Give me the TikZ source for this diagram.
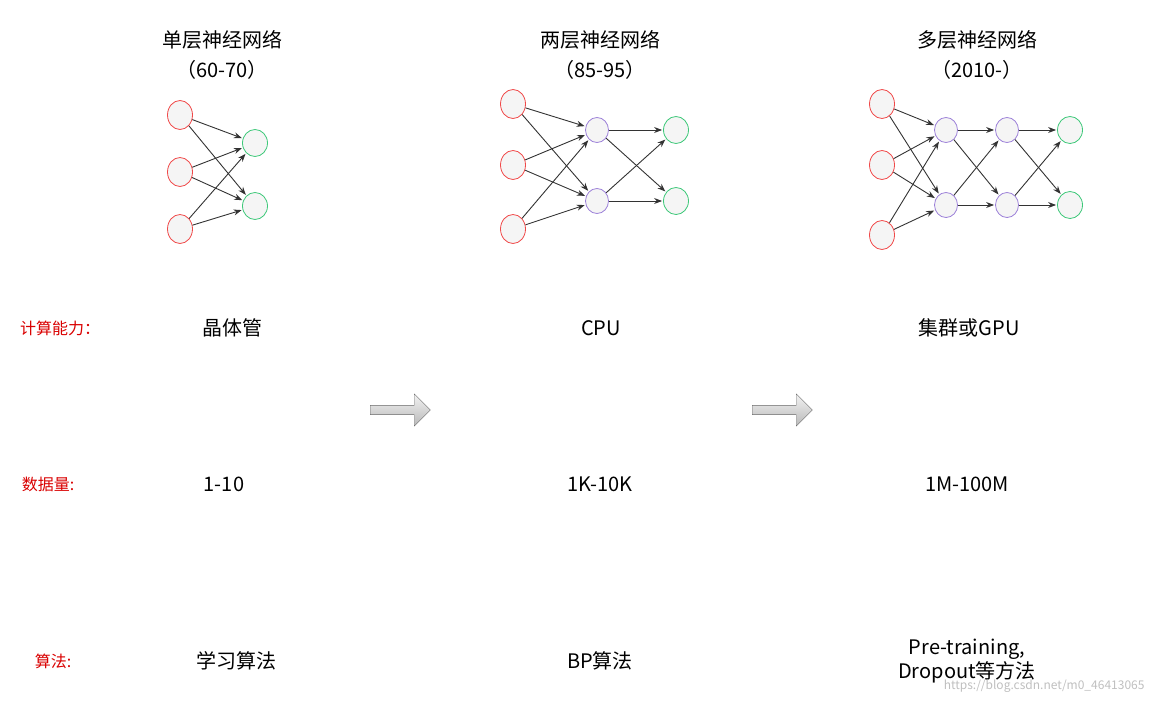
\documentclass[tikz,border=0pt]{standalone}
\usepackage{fontspec}
\setmainfont{Noto Sans CJK SC}
\usetikzlibrary{shapes.arrows,shapes.geometric,arrows.meta}
\definecolor{nred}{HTML}{F04848}
\definecolor{ngreen}{HTML}{3CC878}
\definecolor{npur}{HTML}{9B7FD8}
\begin{document}
\begin{tikzpicture}[x=1pt,y=-1pt,
 neu/.style={ellipse,draw,fill=gray!8,minimum width=25pt,minimum height=29pt,inner sep=0pt,line width=0.8pt},
 inn/.style={neu,draw=nred},
 outn/.style={neu,draw=ngreen,minimum width=25pt,minimum height=27pt},
 hid/.style={neu,draw=npur,minimum width=23pt,minimum height=25pt},
 con/.style={-{Stealth[length=8pt,width=6pt]},draw=black!80,line width=0.9pt,shorten >=1pt},
 ttl/.style={font=\fontsize{20}{24}\selectfont},
 val/.style={font=\fontsize{20}{24}\selectfont},
 lab/.style={font=\fontsize{16}{18}\selectfont,text=red!85!black},
 barr/.style={single arrow,draw=black!60,top color=gray!10,bottom color=gray!55,minimum height=60pt,minimum width=32pt,single arrow head extend=8pt,single arrow head indent=0pt,inner sep=3pt}
]
\useasboundingbox (0,0) rectangle (1156,704);
% titles
\node[ttl] (t1) at (222,40) {单层神经网络};
\node[ttl] (t1b) at (222,70) {（60-70）};
\node[ttl] (t2) at (600,40) {两层神经网络};
\node[ttl] (t2b) at (600,70) {（85-95）};
\node[ttl] (t3) at (977,40) {多层神经网络};
\node[ttl] (t3b) at (977,70) {（2010-）};
% net 1
\node[inn] (a1) at (180,115) {};
\node[inn] (a2) at (180,172) {};
\node[inn] (a3) at (180,229) {};
\node[outn] (b1) at (255,143) {};
\node[outn] (b2) at (255,206) {};
\foreach \i in {a1,a2,a3}\foreach \j in {b1,b2} \draw[con] (\i) -- (\j);
% net 2
\node[inn] (c1) at (513,104) {};
\node[inn] (c2) at (513,165) {};
\node[inn] (c3) at (513,229) {};
\node[hid] (d1) at (597,130) {};
\node[hid] (d2) at (597,201) {};
\node[outn] (e1) at (676,130) {};
\node[outn] (e2) at (676,201) {};
\foreach \i in {c1,c2,c3}\foreach \j in {d1,d2} \draw[con] (\i) -- (\j);
\foreach \i in {d1,d2}\foreach \j in {e1,e2} \draw[con] (\i) -- (\j);
% net 3
\node[inn] (f1) at (882,104) {};
\node[inn] (f2) at (882,165) {};
\node[inn] (f3) at (882,235) {};
\node[hid] (g1) at (946,130) {};
\node[hid] (g2) at (946,205) {};
\node[hid] (h1) at (1007,130) {};
\node[hid] (h2) at (1007,205) {};
\node[outn] (k1) at (1070,130) {};
\node[outn] (k2) at (1070,205) {};
\foreach \i in {f1,f2,f3}\foreach \j in {g1,g2} \draw[con] (\i) -- (\j);
\foreach \i in {g1,g2}\foreach \j in {h1,h2} \draw[con] (\i) -- (\j);
\foreach \i in {h1,h2}\foreach \j in {k1,k2} \draw[con] (\i) -- (\j);
% labels
\node[lab] (l1) at (60,328) {计算能力：};
\node[lab] (l2) at (48,484) {数据量:};
\node[lab] (l3) at (53,661) {算法:};
\node[val] (v11) at (232,328) {晶体管};
\node[val] (v12) at (601,328) {CPU};
\node[val] (v13) at (969,328) {集群或GPU};
\node[val] (v21) at (224,484) {1-10};
\node[val] (v22) at (600,484) {1K-10K};
\node[val] (v23) at (967,484) {1M-100M};
\node[val] (v31) at (236,661) {学习算法};
\node[val] (v32) at (600,661) {BP算法};
\node[val,align=center] (v33) at (967,661) {Pre-training,\\Dropout等方法};
\node[text=gray!50,font=\fontsize{12}{14}\selectfont,anchor=east] (wm) at (1148,686) {https://blog.csdn.net/m0\_46413065};
% block arrows
\node[barr] (ar1) at (398,410) {};
\node[barr] (ar2) at (780,410) {};
\end{tikzpicture}
\end{document}
